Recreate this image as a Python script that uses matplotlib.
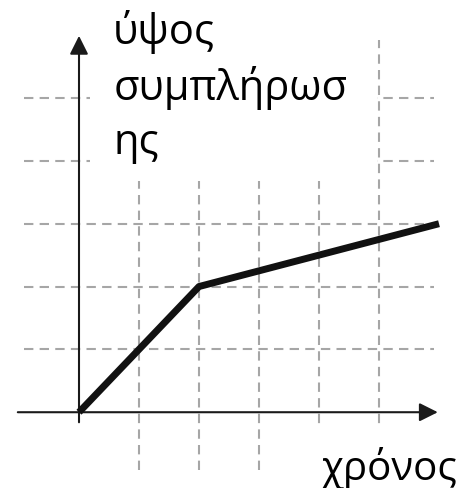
import matplotlib
matplotlib.use("Agg")
import matplotlib.pyplot as plt
from matplotlib.patches import Rectangle

# δεδομένα
xronos = [0, 2, 6]
ypsos = [0, 2, 3]
grid_x = [1, 2, 3, 4, 5]
grid_y = [1, 2, 3, 4, 5]
ylabel_txt = "ύψος\nσυμπλήρωσ\nης"
xlabel_txt = "χρόνος"

plt.rcParams['font.family'] = ['Open Sans', 'DejaVu Sans']

fig = plt.figure(figsize=(4.66, 4.89), dpi=100)
ax = fig.add_axes([0, 0, 1, 1])
ax.set_xlim(-1.3167, 6.45)
ax.set_ylim(-1.206, 6.576)
ax.axis('off')

# πλέγμα
gc = '#a6a6a6'
for gx in grid_x:
    ax.plot([gx, gx], [-0.92, 5.93], color=gc, lw=1.5, dashes=(4.5, 3), zorder=1)
for gy in grid_y:
    ax.plot([-0.92, 5.92], [gy, gy], color=gc, lw=1.5, dashes=(4.5, 3), zorder=1)

# λευκό φόντο πίσω από τα κείμενα
ax.add_patch(Rectangle((0.193, 0.628), 0.616, 0.372, transform=ax.transAxes,
                       facecolor='white', edgecolor='none', zorder=2))
ax.add_patch(Rectangle((0.655, 0.0), 0.345, 0.131, transform=ax.transAxes,
                       facecolor='white', edgecolor='none', zorder=2))

# άξονες
ax.annotate('', xy=(5.98, 0), xytext=(-1.02, 0),
            arrowprops=dict(arrowstyle='-|>', color='#1a1a1a', lw=1.5,
                            mutation_scale=28, shrinkA=0, shrinkB=0), zorder=3)
ax.annotate('', xy=(0, 5.99), xytext=(0, -0.16),
            arrowprops=dict(arrowstyle='-|>', color='#1a1a1a', lw=1.5,
                            mutation_scale=28, shrinkA=0, shrinkB=0), zorder=3)

# καμπύλη
ax.plot(xronos, ypsos, color='#111111', lw=5, solid_capstyle='butt', zorder=4)

ax.text(0.243, 0.98, ylabel_txt, transform=ax.transAxes, ha='left', va='top',
        fontsize=30, linespacing=1.36, zorder=5)
ax.text(0.69, 0.018, xlabel_txt, transform=ax.transAxes, ha='left', va='baseline',
        fontsize=29, zorder=5)

fig.savefig('out.png', dpi=100)
